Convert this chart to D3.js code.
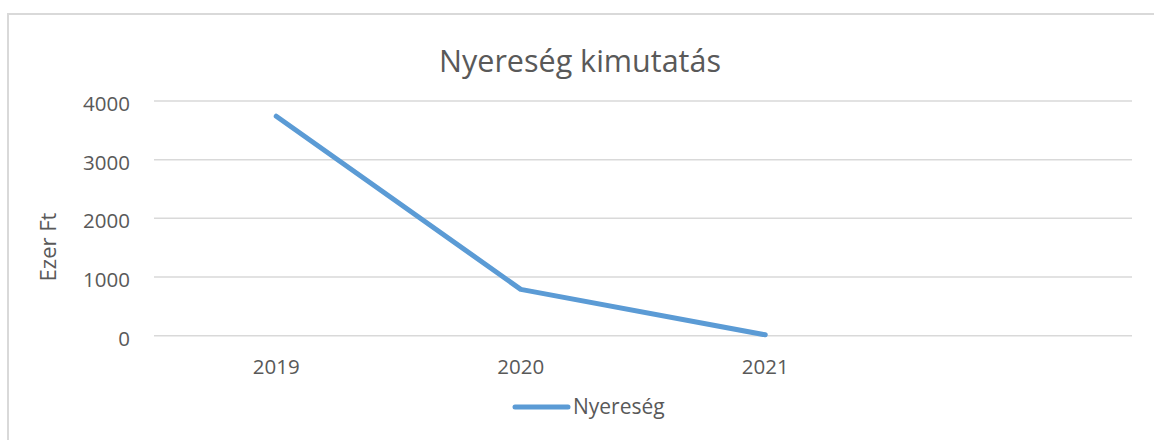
<!DOCTYPE html>
<html>
<head>
<meta charset="utf-8">
<script src="https://cdn.jsdelivr.net/npm/d3@7"></script>
<style>
  body { margin: 0; background: #fff; }
  text { font-family: "Open Sans", sans-serif; fill: #595959; }
</style>
</head>
<body>
<svg id="chart" width="1154" height="440"></svg>
<script>
// data
const years = ["2019", "2020", "2021", ""];
const profit = [3740, 790, 15];
const yTicks = [0, 1000, 2000, 3000, 4000];
const seriesName = "Nyereség";

const svg = d3.select("#chart");

// chart frame
svg.append("rect")
  .attr("x", 8).attr("y", 14)
  .attr("width", 1160).attr("height", 440)
  .attr("fill", "none")
  .attr("stroke", "#d9d9d9")
  .attr("stroke-width", 2);

const x = d3.scaleBand().domain(years).range([154, 1132]);
const y = d3.scaleLinear().domain([0, 4000]).range([335.7, 101]);

// gridlines
svg.append("g").selectAll("line")
  .data(yTicks)
  .enter().append("line")
  .attr("x1", 154).attr("x2", 1132)
  .attr("y1", d => y(d)).attr("y2", d => y(d))
  .attr("stroke", "#d9d9d9")
  .attr("stroke-width", 1.5);

// y tick labels
svg.append("g").selectAll("text")
  .data(yTicks)
  .enter().append("text")
  .attr("x", 130)
  .attr("y", d => y(d) + 10)
  .attr("text-anchor", "end")
  .style("font-size", "20.5px")
  .text(d => d);

// x tick labels
svg.append("g").selectAll("text")
  .data(years)
  .enter().append("text")
  .attr("x", d => x(d) + x.bandwidth() / 2)
  .attr("y", 374)
  .attr("text-anchor", "middle")
  .style("font-size", "20.5px")
  .text(d => d);

// the line
const line = d3.line()
  .x((d, i) => x(years[i]) + x.bandwidth() / 2)
  .y(d => y(d));

svg.append("path")
  .datum(profit)
  .attr("d", line)
  .attr("fill", "none")
  .attr("stroke", "#5b9bd5")
  .attr("stroke-width", 5)
  .attr("stroke-linecap", "round")
  .attr("stroke-linejoin", "round");

// title
svg.append("text")
  .attr("x", 580).attr("y", 72)
  .attr("text-anchor", "middle")
  .style("font-size", "30.5px")
  .text("Nyereség kimutatás");

// y axis title
svg.append("text")
  .attr("transform", "translate(56,247) rotate(-90)")
  .attr("text-anchor", "middle")
  .style("font-size", "22px")
  .text("Ezer Ft");

// legend
svg.append("line")
  .attr("x1", 515).attr("x2", 568)
  .attr("y1", 407).attr("y2", 407)
  .attr("stroke", "#5b9bd5")
  .attr("stroke-width", 5)
  .attr("stroke-linecap", "round");
svg.append("text")
  .attr("x", 573).attr("y", 414)
  .style("font-size", "21px")
  .text(seriesName);
</script>
</body>
</html>
